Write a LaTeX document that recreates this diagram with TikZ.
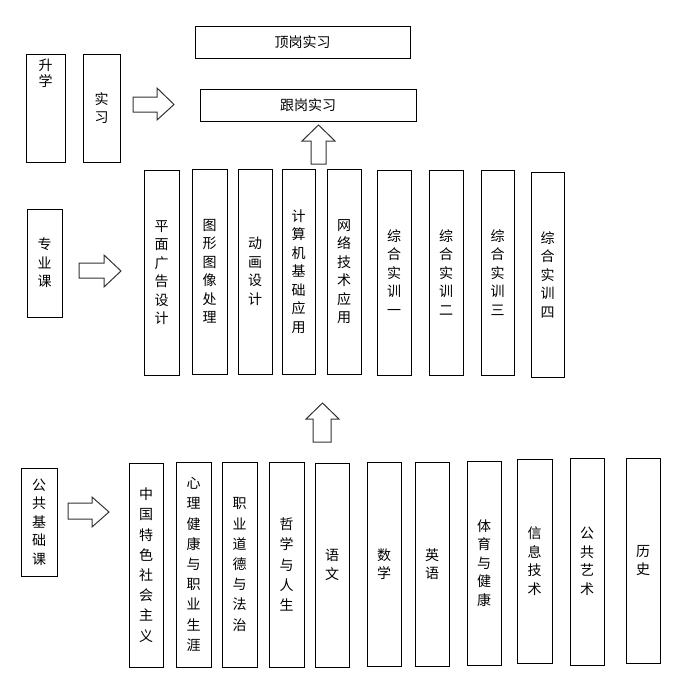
\documentclass[tikz,border=0pt]{standalone}
\usepackage{fontspec}
\setmainfont{Noto Sans CJK SC}
\newcommand{\bx}[6]{\node[box, minimum width={(#4-#2)*1pt}, minimum height={(#5-#3)*1pt}] (#1) at ({(#2+#4)/2},{(#3+#5)/2}) {#6};}
\begin{document}
\begin{tikzpicture}[x=1pt,y=-1pt,
  box/.style={draw=black, line width=1pt, inner sep=0pt, align=center, font={\fontsize{14}{18.5}\selectfont}},
  wide/.style={font={\fontsize{14}{20.2}\selectfont}},
  blockarrow/.style={draw=black!80, line width=1pt, fill=white, line join=miter}]
\useasboundingbox (0,0) rectangle (688,683);

% top
\bx{dg}{195}{26}{410}{58}{顶岗实习}
\bx{gg}{200}{89}{416}{121}{跟岗实习}
\bx{sx}{26}{54}{65}{162}{}
\node[anchor=north, inner sep=0pt, align=center, font={\fontsize{14}{16}\selectfont}] (sxt) at ([yshift=-5pt]sx.north) {升\\学};
\bx{sxi}{83}{54}{120}{162}{实\\习}

% middle
\bx{zyk}{27}{209}{62}{317}{专\\业\\课}
\bx{m1}{144}{170}{179}{375}{平\\面\\广\\告\\设\\计}
\bx{m2}{192}{169}{227}{374}{图\\形\\图\\像\\处\\理}
\bx{m3}{238}{169}{272}{374}{动\\画\\设\\计}
\bx{m4}{282}{169}{315}{374}{计\\算\\机\\基\\础\\应\\用}
\bx{m5}{327}{169}{361}{374}{网\\络\\技\\术\\应\\用}
\bx{m6}{377}{170}{411}{375}{综\\合\\实\\训\\一}
\bx{m7}{429}{170}{463}{375}{综\\合\\实\\训\\二}
\bx{m8}{481}{170}{514}{375}{综\\合\\实\\训\\三}
\bx{m9}{531}{172}{564}{377}{综\\合\\实\\训\\四}

% bottom
\bx{ggk}{21}{468}{57}{576}{公\\共\\基\\础\\课}
\node[box, wide, minimum width=34pt, minimum height=204pt] (b1) at (146,565) {中\\国\\特\\色\\社\\会\\主\\义};
\node[box, wide, minimum width=35pt, minimum height=205pt] (b2) at (193.5,564.5) {心\\理\\健\\康\\与\\职\\业\\生\\涯};
\node[box, wide, minimum width=35pt, minimum height=205pt] (b3) at (239.5,564.5) {职\\业\\道\\德\\与\\法\\治};
\node[box, wide, minimum width=35pt, minimum height=205pt] (b4) at (286.5,564.5) {哲\\学\\与\\人\\生};
\bx{b5}{315}{463}{349}{667}{语\\文}
\bx{b6}{367}{462}{401}{666}{数\\学}
\bx{b7}{415}{462}{449}{666}{英\\语}
\bx{b8}{467}{461}{501}{665}{体\\育\\与\\健\\康}
\bx{b9}{517}{459}{552}{663}{信\\息\\技\\术}
\bx{b10}{570}{458}{604}{665}{公\\共\\艺\\术}
\bx{b11}{626}{458}{660}{663}{历\\史}

% block arrows
\draw[blockarrow] (133,97) -- (157,97) -- (157,88) -- (174,104.5) -- (157,120) -- (157,112) -- (133,112) -- cycle;
\draw[blockarrow] (79,263) -- (104,263) -- (104,255) -- (121,271) -- (104,287) -- (104,278) -- (79,278) -- cycle;
\draw[blockarrow] (68,503) -- (92,503) -- (92,497) -- (109,512) -- (92,527) -- (92,519) -- (68,519) -- cycle;
\draw[blockarrow] (311,164) -- (311,141) -- (302,141) -- (318.5,125) -- (335,141) -- (326,141) -- (326,164) -- cycle;
\draw[blockarrow] (313,442) -- (313,419) -- (306,419) -- (322.5,403) -- (339,419) -- (331,419) -- (331,442) -- cycle;
\end{tikzpicture}
\end{document}
